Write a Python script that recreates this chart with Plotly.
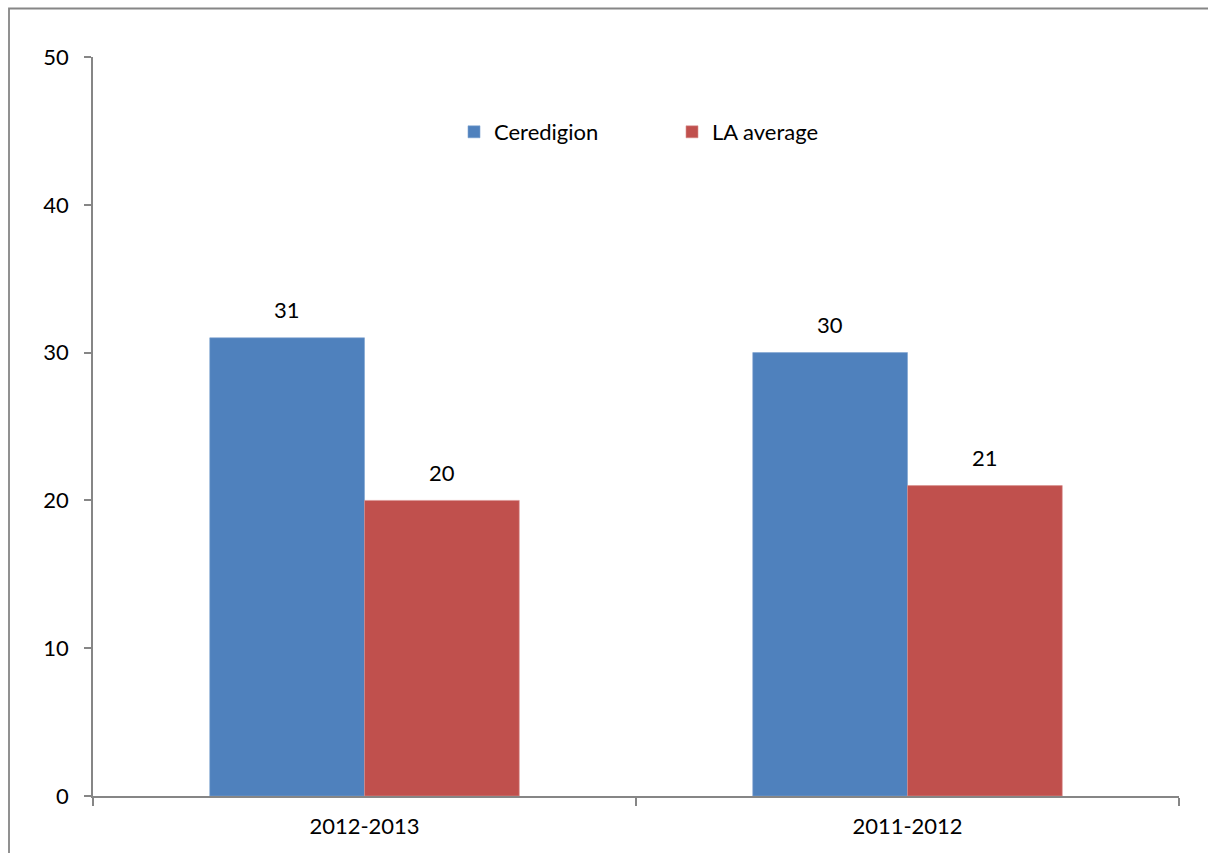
import plotly.graph_objects as go

categories = ["2012-2013", "2011-2012"]
ceredigion = [31, 30]
la_average = [20, 21]
y_ticks = [0, 10, 20, 30, 40, 50]

W, H = 1208, 853
L, R, T, B = 93, 29, 57, 57
pw = W - L - R
ph = H - T - B

font = dict(family="Lato, Noto Sans, sans-serif", size=22, color="#000000")

fig = go.Figure()
fig.add_trace(go.Bar(
    x=categories, y=ceredigion, name="Ceredigion",
    marker=dict(color="#4F81BD", line=dict(color="#7EA2D0", width=0.6)),
))
fig.add_trace(go.Bar(
    x=categories, y=la_average, name="LA average",
    marker=dict(color="#C0504D", line=dict(color="#D8908E", width=0.6)),
))

# data labels, centred over each bar of the group
bar_offset = 77.5
for vals, shift in ((ceredigion, -bar_offset), (la_average, bar_offset)):
    for cat, v in zip(categories, vals):
        fig.add_annotation(
            x=cat, y=v, text=str(v), showarrow=False,
            xshift=shift, yshift=28, yanchor="middle",
            font=font,
        )

fig.update_layout(
    width=W, height=H,
    margin=dict(l=L, r=R, t=T, b=B, pad=0),
    plot_bgcolor="white", paper_bgcolor="white",
    barmode="group", bargap=0.43, bargroupgap=0,
    font=font,
    showlegend=True,
    legend=dict(
        orientation="h", x=(454 - L) / pw, xanchor="left",
        y=(796 - 132) / ph, yanchor="middle",
        font=dict(family="Lato, Noto Sans, sans-serif", size=22, color="#000000"),
        entrywidth=173, entrywidthmode="pixels",
        bgcolor="rgba(0,0,0,0)", traceorder="normal",
    ),
    xaxis=dict(
        showline=True, linecolor="#868686", linewidth=1.5,
        ticks="outside", tickson="boundaries", ticklen=8, tickcolor="#868686", tickwidth=1.5,
        showgrid=False, zeroline=False, ticklabelstandoff=10,
        tickfont=font,
    ),
    yaxis=dict(
        range=[0, 50], tickvals=y_ticks,
        showline=True, linecolor="#868686", linewidth=1.5,
        ticks="outside", ticklen=7, tickcolor="#868686", tickwidth=1.5,
        showgrid=False, zeroline=False, ticklabelstandoff=11,
        tickfont=font,
    ),
    shapes=[dict(
        type="rect", xref="paper", yref="paper",
        x0=(9 - L) / pw, x1=(1300 - L) / pw,
        y0=(796 - 950) / ph, y1=(796 - 8.5) / ph,
        line=dict(color="#868686", width=1.8), fillcolor="rgba(0,0,0,0)",
        layer="below",
    )],
)

fig.write_html("out.html")
